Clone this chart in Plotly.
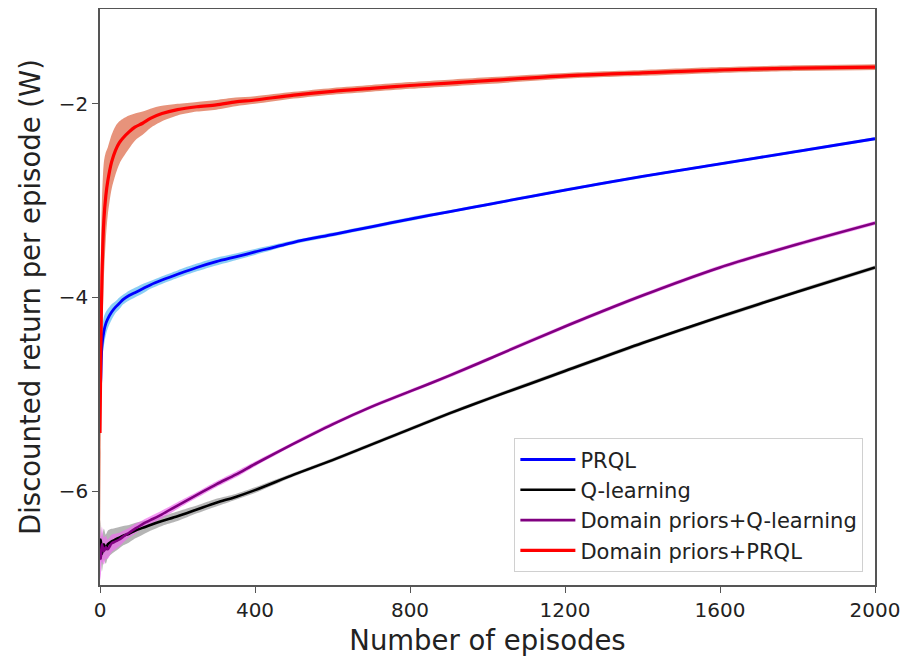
import plotly.graph_objects as go

episodes = [0, 2, 5, 10, 15, 20, 30, 40, 50, 60, 75, 90, 110, 130, 160, 200, 250, 300, 350, 400,
            500, 600, 700, 800, 900, 1000, 1200, 1400, 1600, 1800, 2000]

prql = [-5.0, -4.85, -4.5, -4.35, -4.27, -4.22, -4.15, -4.1, -4.06, -4.02, -3.98, -3.95, -3.91, -3.87,
        -3.82, -3.76, -3.69, -3.63, -3.58, -3.53, -3.43, -3.35, -3.27, -3.19, -3.115, -3.04, -2.89, -2.75,
        -2.62, -2.49, -2.36]
prql_sd = [0.10, 0.15, 0.15, 0.15, 0.12, 0.10, 0.08, 0.06, 0.06, 0.05, 0.05, 0.05, 0.05, 0.04, 0.04,
           0.04, 0.04, 0.04, 0.035, 0.03, 0.02, 0.02, 0.02, 0.02, 0.015, 0.015, 0.015, 0.015, 0.015, 0.015,
           0.015]

qlearn = [-6.7, -6.5, -6.65, -6.55, -6.6, -6.55, -6.52, -6.5, -6.48, -6.46, -6.44, -6.41, -6.38, -6.35,
          -6.31, -6.26, -6.19, -6.12, -6.06, -5.99, -5.83, -5.68, -5.52, -5.36, -5.2, -5.05, -4.76, -4.47,
          -4.2, -3.94, -3.69]
qlearn_sd = [0.20, 0.20, 0.18, 0.16, 0.15, 0.14, 0.13, 0.12, 0.11, 0.10, 0.09, 0.08, 0.07, 0.06, 0.05,
             0.05, 0.04, 0.04, 0.03, 0.03, 0.02, 0.02, 0.02, 0.02, 0.02, 0.02, 0.02, 0.02, 0.02, 0.02, 0.02]

dp_qlearn = [-6.6, -6.7, -6.55, -6.62, -6.58, -6.6, -6.54, -6.52, -6.5, -6.47, -6.43, -6.39, -6.34, -6.30,
             -6.24, -6.15, -6.04, -5.93, -5.83, -5.72, -5.51, -5.31, -5.13, -4.97, -4.81, -4.64, -4.3, -3.98,
             -3.69, -3.45, -3.23]
dp_qlearn_sd = [0.25, 0.22, 0.18, 0.14, 0.12, 0.10, 0.09, 0.08, 0.07, 0.06, 0.05, 0.05, 0.04, 0.04, 0.04,
                0.035, 0.03, 0.03, 0.03, 0.025, 0.02, 0.02, 0.02, 0.02, 0.02, 0.02, 0.02, 0.02, 0.02, 0.02,
                0.02]

dp_prql = [-5.4, -4.6, -3.8, -3.2, -2.95, -2.8, -2.6, -2.48, -2.4, -2.35, -2.29, -2.24, -2.2, -2.15,
           -2.1, -2.06, -2.03, -2.01, -1.98, -1.96, -1.91, -1.87, -1.84, -1.81, -1.785, -1.76, -1.71, -1.68,
           -1.65, -1.63, -1.62]
dp_prql_sd = [1.2, 1.0, 0.8, 0.6, 0.45, 0.35, 0.28, 0.25, 0.22, 0.2, 0.17, 0.14, 0.12, 0.10, 0.08,
              0.06, 0.05, 0.05, 0.045, 0.04, 0.035, 0.035, 0.035, 0.035, 0.035, 0.035, 0.03, 0.03, 0.03,
              0.03, 0.03]

series = [
    ("PRQL", prql, prql_sd, "#0000ff", "rgba(100,190,240,0.75)", 2.8),
    ("Q-learning", qlearn, qlearn_sd, "#000000", "rgba(150,150,150,0.7)", 2.6),
    ("Domain priors+Q-learning", dp_qlearn, dp_qlearn_sd, "#800080", "rgba(238,110,238,0.7)", 2.6),
    ("Domain priors+PRQL", dp_prql, dp_prql_sd, "#ff0000", "rgba(225,120,90,0.8)", 3.2),
]

fig = go.Figure()
for name, vals, sd, col, band, lw in series:
    upper = [v + s for v, s in zip(vals, sd)]
    lower = [v - s for v, s in zip(vals, sd)]
    fig.add_trace(go.Scatter(x=episodes, y=upper, mode="lines", line=dict(width=0, shape="spline", smoothing=0.8),
                             showlegend=False, hoverinfo="skip", legendgroup=name))
    fig.add_trace(go.Scatter(x=episodes, y=lower, mode="lines", line=dict(width=0, shape="spline", smoothing=0.8),
                             fill="tonexty", fillcolor=band, showlegend=False, hoverinfo="skip", legendgroup=name))
for name, vals, sd, col, band, lw in series:
    fig.add_trace(go.Scatter(x=episodes, y=vals, mode="lines", name=name, legendgroup=name,
                             line=dict(color=col, width=lw, shape="spline", smoothing=0.8)))

fig.update_layout(
    width=901, height=656,
    margin=dict(l=92, r=34, t=1, b=79, autoexpand=False),
    paper_bgcolor="white", plot_bgcolor="white",
    font=dict(family="DejaVu Sans", color="#222"),
    showlegend=True,
    legend=dict(x=0.985, y=0.022, xanchor="right", yanchor="bottom", traceorder="normal",
                tracegroupgap=2,
                bgcolor="rgba(255,255,255,0.9)", bordercolor="#d0d0d0", borderwidth=1,
                font=dict(size=21, color="#222"), itemwidth=55),
)
fig.update_xaxes(range=[0, 2000], tickvals=[0, 400, 800, 1200, 1600, 2000],
                 showgrid=False, zeroline=False, showline=True, linecolor="#555", linewidth=1.5,
                 mirror=True, ticks="outside", ticklen=6, tickcolor="#555", automargin=False,
                 tickfont=dict(size=20), title=dict(text="Number of episodes", font=dict(size=27.5), standoff=10))
fig.update_yaxes(range=[-6.97, -1.02], tickvals=[-2, -4, -6], ticktext=["\u22122", "\u22124", "\u22126"],
                 showgrid=False, zeroline=False, showline=True, linecolor="#555", linewidth=1.5,
                 mirror=True, ticks="outside", ticklen=6, tickcolor="#555", automargin=False,
                 tickfont=dict(size=20), title=dict(text="Discounted return per episode (W)", font=dict(size=27.5), standoff=10))

fig.write_html("out.html")
